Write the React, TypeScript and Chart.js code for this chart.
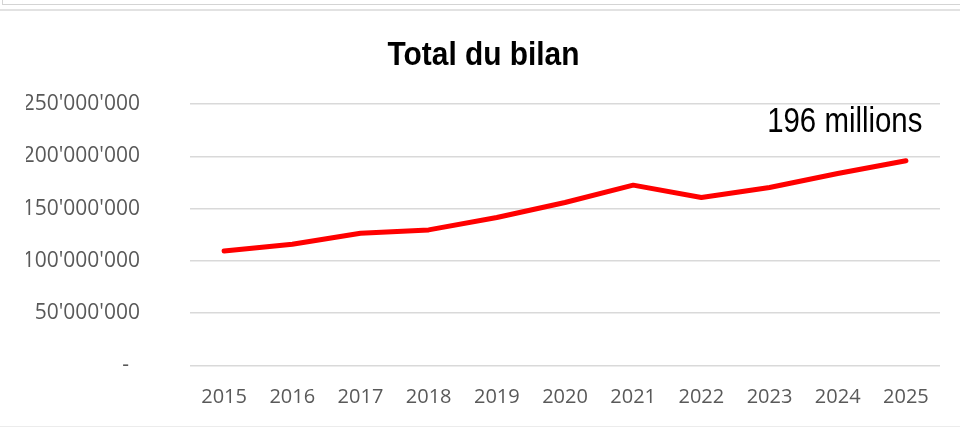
import React, { useEffect, useRef } from "react";
import { Chart, registerables } from "chart.js";

Chart.register(...registerables);

const years = ["2015", "2016", "2017", "2018", "2019", "2020", "2021", "2022", "2023", "2024", "2025"];
const totals = [109.5e6, 115.9e6, 126.4e6, 129.6e6, 141.5e6, 155.8e6, 172.4e6, 160.6e6, 170.2e6, 183.6e6, 195.7e6];
const yMin = 0;
const yMax = 250e6;
const yStep = 50e6;
const chartTitle = "Total du bilan";
const unitSuffix = " millions";

const NARROW = "'Liberation Sans Narrow', 'Arial Narrow', 'Liberation Sans', Arial, sans-serif";
const TICKFONT = "'Open Sans', 'Noto Sans', sans-serif";

function formatTick(v: number): string {
  if (v === 0) return "-  ";
  return Math.round(v)
    .toString()
    .replace(/\B(?=(\d{3})+(?!\d))/g, "'");
}

function drawCondensed(ctx: any, text: string, x: number, y: number, font: string, scaleX: number, align: string) {
  ctx.save();
  ctx.font = font;
  ctx.fillStyle = "#000000";
  ctx.textBaseline = "alphabetic";
  ctx.textAlign = "left";
  const w = ctx.measureText(text).width * scaleX;
  let left = x;
  if (align === "center") left = x - w / 2;
  else if (align === "right") left = x - w;
  ctx.translate(left, y);
  ctx.scale(scaleX, 1);
  ctx.fillText(text, 0, 0);
  ctx.restore();
}

const textPlugin = {
  id: "texts",
  afterDatasetsDraw(chart: any) {
    const { ctx, scales } = chart;
    // title
    drawCondensed(ctx, chartTitle, chart.width / 2 + 3.5, 65, `bold 33px ${NARROW}`, 0.905, "center");
    // last value annotation
    const lastIdx = totals.length - 1;
    const text = Math.round(totals[lastIdx] / 1e6) + unitSuffix;
    const x = scales.x.getPixelForValue(lastIdx) + 16.5;
    const y = scales.y.getPixelForValue(yMax) + 27.7;
    drawCondensed(ctx, text, x, y, `35px ${NARROW}`, 0.84, "right");
  },
};

export default function App() {
  const ref = useRef<HTMLCanvasElement | null>(null);

  useEffect(() => {
    if (!ref.current) return;
    const chart = new Chart(ref.current, {
      type: "line",
      data: {
        labels: years,
        datasets: [
          {
            data: totals,
            borderColor: "#ff0000",
            backgroundColor: "#ff0000",
            borderWidth: 5,
            pointRadius: 0,
            pointHoverRadius: 0,
            tension: 0,
            borderCapStyle: "round",
            borderJoinStyle: "round",
            fill: false,
          },
        ],
      },
      options: {
        responsive: false,
        animation: false,
        events: [],
        layout: { padding: { left: 26, right: 20, top: 104, bottom: 0 } },
        plugins: {
          legend: { display: false },
          tooltip: { enabled: false },
          title: { display: false },
        },
        scales: {
          x: {
            type: "category",
            offset: true,
            grid: { display: false, drawTicks: false },
            border: { display: false },
            ticks: {
              color: "#595959",
              font: { family: TICKFONT, size: 20 },
              padding: 20,
              maxRotation: 0,
              autoSkip: false,
            },
            afterFit: (s: any) => {
              s.height = 61.5;
            },
          },
          y: {
            min: yMin,
            max: yMax,
            grid: { color: "#d9d9d9", lineWidth: 1.5, drawTicks: false },
            border: { display: false },
            ticks: {
              stepSize: yStep,
              color: "#595959",
              font: { family: TICKFONT, size: 21 },
              padding: 50,
              callback: (v: any) => formatTick(Number(v)),
            },
            afterFit: (s: any) => {
              s.width = 164;
            },
          },
        },
      },
      plugins: [textPlugin],
    });
    return () => chart.destroy();
  }, []);

  return (
    <div style={{ position: "fixed", left: 0, top: 0, width: 960, height: 428, background: "#ffffff", overflow: "hidden" }}>
      <div style={{ position: "absolute", left: 2, top: 0, width: 1, height: 5, background: "#d4d4d4" }} />
      <div style={{ position: "absolute", left: 2, top: 4, width: 958, height: 1, background: "#d4d4d4" }} />
      <div style={{ position: "absolute", left: 0, top: 9, width: 960, height: 2, background: "#e2e2e2" }} />
      <div style={{ position: "absolute", left: 0, top: 426, width: 960, height: 1, background: "#ececec" }} />
      <canvas ref={ref} width={960} height={428} style={{ position: "absolute", left: 0, top: 0, width: 960, height: 428 }} />
    </div>
  );
}
